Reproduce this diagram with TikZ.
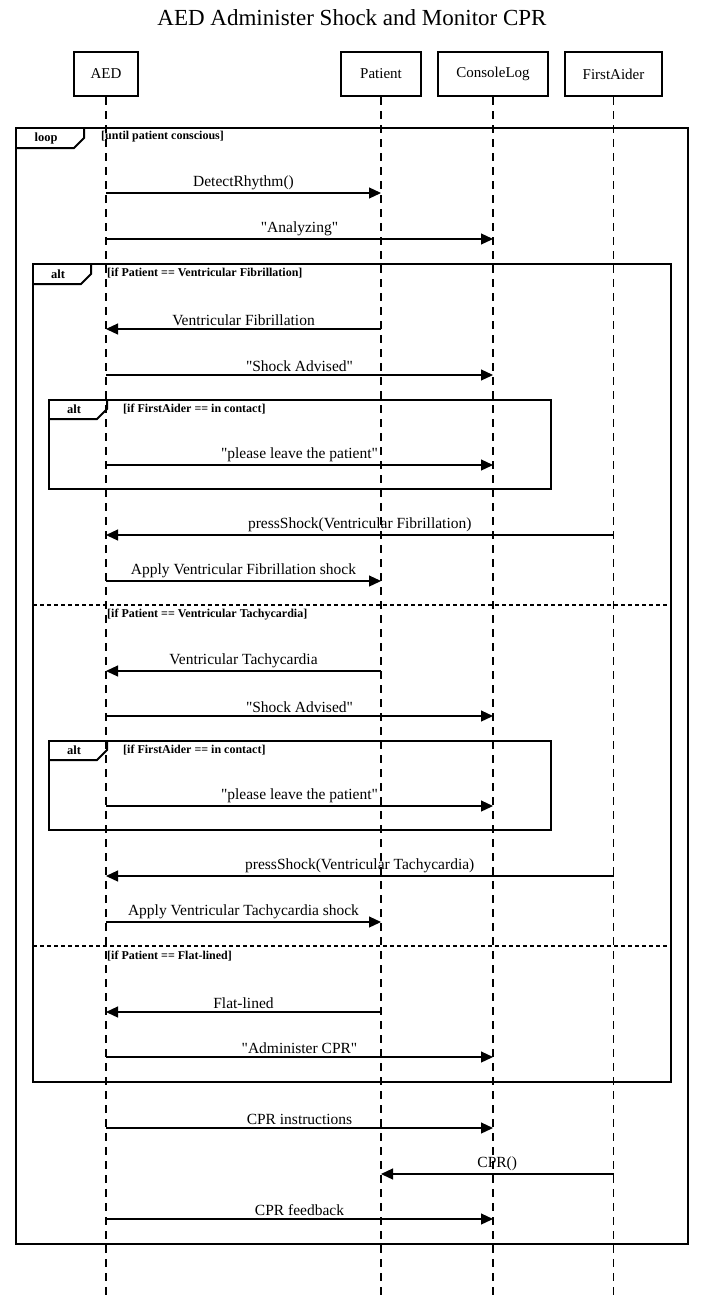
\documentclass[tikz,border=0pt]{standalone}
\usepackage{fontspec}
\setmainfont{Liberation Serif}[Ligatures=TeXOff]
\usetikzlibrary{arrows.meta}

% one message: source lifeline, target lifeline, height, label
\newcommand\msg[4]{%
  \coordinate (src-#3) at (#1.center |- 0,#3);
  \coordinate (dst-#3) at (#2.center |- 0,#3);
  \draw[msgline] (src-#3) -- node[msglabel]{#4} (dst-#3);}

% frame tab: left x, top y, right x, bottom y, keyword
\newcommand\fragtab[5]{%
  \draw[frame] (#1,#4) -- ({#3-10},#4) -- (#3,{#4-10}) -- (#3,#2);
  \node[tabtext] at ({(#1+#3)/2-4},{(#2+#4)/2}) {#5};}

\begin{document}
\begin{tikzpicture}[x=1pt,y=-1pt,
  head/.style={draw,line width=2.4pt,minimum height=44pt,inner sep=0pt,font=\fontsize{15}{18}\selectfont},
  lifeline/.style={line width=1.2pt,dash pattern=on 8pt off 6pt},
  msgline/.style={line width=1.2pt,-{Triangle[length=12pt,width=11pt]}},
  msglabel/.style={above,inner sep=2.5pt,font=\fontsize{15.5}{18}\selectfont},
  frame/.style={line width=2pt},
  tabtext/.style={font=\bfseries\fontsize{12.5}{14}\selectfont,inner sep=0pt},
  condtext/.style={font=\bfseries\fontsize{12}{14}\selectfont,anchor=west,inner sep=0pt},
  separator/.style={line width=2pt,dash pattern=on 4pt off 3pt},
]
\useasboundingbox (0,0) rectangle (704,1301);

\node[font=\fontsize{23}{27}\selectfont] (title) at (352,18) {AED Administer Shock and Monitor CPR};

% participants
\node[head,minimum width=64pt] (aed) at (106,74) {AED};
\node[head,minimum width=80pt] (patient) at (381,74) {Patient};
\node[head,minimum width=110pt] (console) at (493,74) {ConsoleLog};
\node[head,minimum width=97pt] (aider) at (613.5,74) {FirstAider};

% lifelines
\foreach \p in {aed,patient,console,aider}{
  \coordinate (\p-end) at (\p.center |- 0,1301);
  \draw[lifeline] (\p.south) -- (\p-end);
}

% loop frame
\draw[frame] (16,128) rectangle (688,1244);
\fragtab{16}{128}{84}{148}{loop}
\node[condtext] at (101,137) {[until patient conscious]};

% outer alt frame
\draw[frame] (33,264) rectangle (671,1082);
\fragtab{33}{264}{91}{284}{alt}
\node[condtext] at (107,273) {[if Patient == Ventricular Fibrillation]};
\draw[separator] (33,605) -- (671,605);
\node[condtext] at (107,615) {[if Patient == Ventricular Tachycardia]};
\draw[separator] (33,946) -- (671,946);
\node[condtext] at (107,956) {[if Patient == Flat-lined]};

% inner alt frames
\draw[frame] (49,400) rectangle (551,489);
\fragtab{49}{400}{107}{419}{alt}
\node[condtext] at (123,409) {[if FirstAider == in contact]};
\draw[frame] (49,741) rectangle (551,830);
\fragtab{49}{741}{107}{760}{alt}
\node[condtext] at (123,750) {[if FirstAider == in contact]};

% messages
\msg{aed}{patient}{193}{DetectRhythm()}
\msg{aed}{console}{239}{"Analyzing"}
\msg{patient}{aed}{329}{Ventricular Fibrillation}
\msg{aed}{console}{375}{"Shock Advised"}
\msg{aed}{console}{465}{"please leave the patient"}
\msg{aider}{aed}{535}{pressShock(Ventricular Fibrillation)}
\msg{aed}{patient}{581}{Apply Ventricular Fibrillation shock}
\msg{patient}{aed}{671}{Ventricular Tachycardia}
\msg{aed}{console}{716}{"Shock Advised"}
\msg{aed}{console}{806}{"please leave the patient"}
\msg{aider}{aed}{876}{pressShock(Ventricular Tachycardia)}
\msg{aed}{patient}{922}{Apply Ventricular Tachycardia shock}
\msg{patient}{aed}{1012}{Flat-lined}
\msg{aed}{console}{1057}{"Administer CPR"}
\msg{aed}{console}{1128}{CPR instructions}
\msg{aider}{patient}{1174}{CPR()}
\msg{aed}{console}{1219}{CPR feedback}

\end{tikzpicture}
\end{document}
